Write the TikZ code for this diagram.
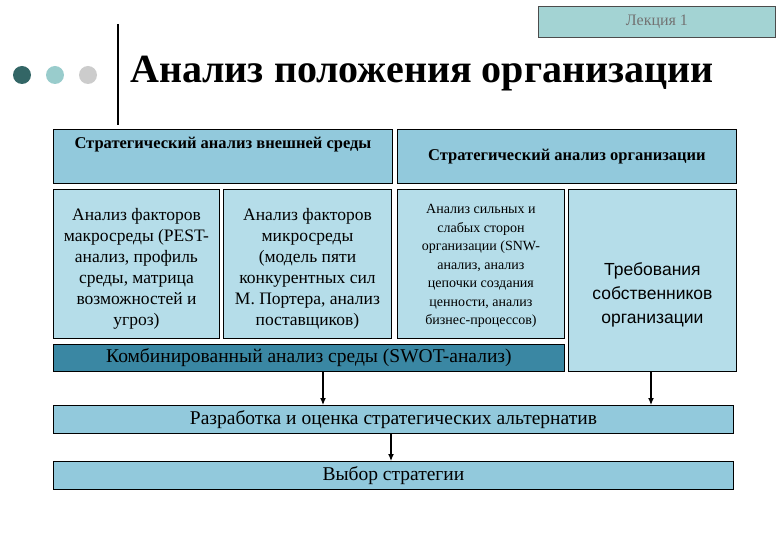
\documentclass[tikz,border=0pt]{standalone}
\usepackage{fontspec}
\setmainfont{Liberation Serif}
\newfontfamily\sansf{Liberation Sans}
\usetikzlibrary{arrows.meta}
\begin{document}
\begin{tikzpicture}[x=1pt,y=-1pt,
  bx/.style={draw=black,line width=0.9pt,inner sep=0pt},
  hdr/.style={fill=top},
  cel/.style={fill=cell},
  arr/.style={-{Latex[length=7pt,width=6pt]},line width=1.2pt}]
\definecolor{top}{HTML}{92C9DC}
\definecolor{cell}{HTML}{B5DDE9}
\definecolor{swot}{HTML}{3A87A3}
\definecolor{lec}{HTML}{A3D3D3}
\useasboundingbox (0,0) rectangle (780,540);
\node[bx,fill=lec,draw=black!70,minimum width=237,minimum height=31,anchor=north west,text=black!55,font=\fontsize{16}{18}\selectfont] (lec) at (538,6) {Лекция 1};
\fill[fill={rgb,255:red,51;green,102;blue,102}] (22,75) circle (9);
\fill[fill={rgb,255:red,153;green,204;blue,204}] (55,75) circle (9);
\fill[fill={rgb,255:red,204;green,204;blue,204}] (88,75) circle (9);
\draw[line width=2.5pt] (118,24) -- (118,125);
\node[anchor=west,font=\bfseries\fontsize{40}{44}\selectfont,inner sep=0] (title) at (130,74) {Анализ положения организации};
\node[bx,hdr,minimum width=339,minimum height=54,anchor=north west] (A) at (53,129) {};
\node[anchor=north,font=\bfseries\fontsize{16.5}{19}\selectfont] (At) at ([yshift=-5]A.north) {Стратегический анализ внешней среды};
\node[bx,hdr,minimum width=339,minimum height=54,anchor=north west,font=\bfseries\fontsize{16.5}{19}\selectfont] (B) at (397,129) {Стратегический анализ организации};
\node[bx,cel,minimum width=166,minimum height=149,anchor=north west] (c1) at (53,189) {};
\node[align=center,font=\fontsize{17.5}{21}\selectfont] at ([yshift=-5]c1.center) {Анализ факторов\\макросреды (PEST-\\анализ, профиль\\среды, матрица\\возможностей и\\угроз)};
\node[bx,cel,minimum width=168,minimum height=149,anchor=north west] (c2) at (223,189) {};
\node[align=center,font=\fontsize{17.5}{21}\selectfont] at ([yshift=-5]c2.center) {Анализ факторов\\микросреды\\(модель пяти\\конкурентных сил\\М. Портера, анализ\\поставщиков)};
\node[bx,cel,minimum width=167,minimum height=149,anchor=north west] (c3) at (397,189) {};
\node[align=center,font=\fontsize{14}{18.5}\selectfont] at ([yshift=-2]c3.center) {Анализ сильных и\\слабых сторон\\организации (SNW-\\анализ, анализ\\цепочки создания\\ценности, анализ\\бизнес-процессов)};
\node[bx,cel,minimum width=168,minimum height=182,anchor=north west] (c4) at (568,189) {};
\node[align=center,font=\sansf\fontsize{17.5}{24}\selectfont] at ([yshift=-14]c4.center) {Требования\\собственников\\организации};
\node[bx,fill=swot,minimum width=511,minimum height=27,anchor=north west,font=\fontsize{19.5}{21}\selectfont] (sw) at (53,344) {Комбинированный анализ среды (SWOT-анализ)};
\node[bx,hdr,minimum width=680,minimum height=28,anchor=north west,font=\fontsize{19.5}{21}\selectfont] (raz) at (53,405) {Разработка и оценка стратегических альтернатив};
\node[bx,hdr,minimum width=680,minimum height=28,anchor=north west,font=\fontsize{19.5}{21}\selectfont] (vyb) at (53,461) {Выбор стратегии};
\draw[arr] (sw.south -| 323,0) -- (raz.north -| 323,0);
\draw[arr] (c4.south -| 651,0) -- (raz.north -| 651,0);
\draw[arr] (raz.south -| 391,0) -- (vyb.north -| 391,0);
\end{tikzpicture}
\end{document}
